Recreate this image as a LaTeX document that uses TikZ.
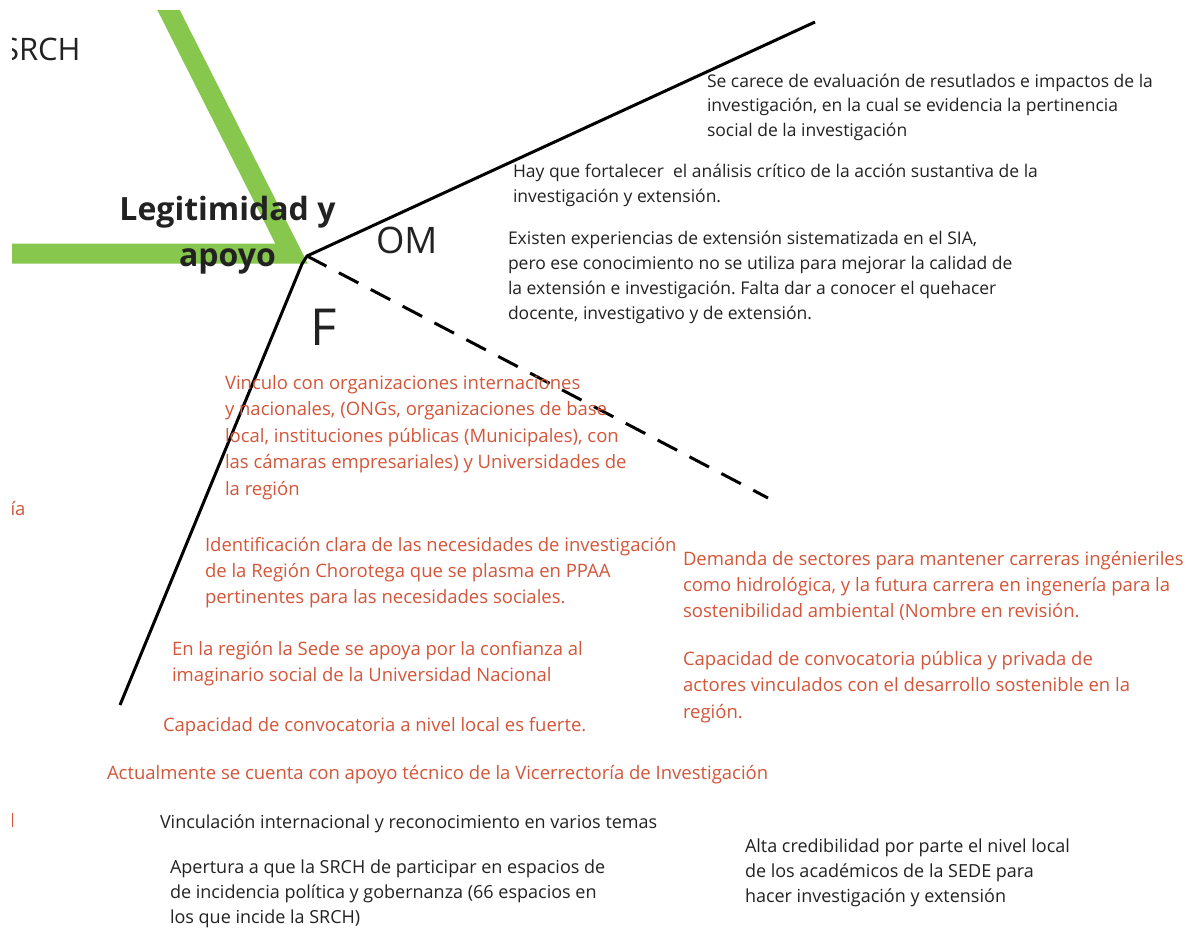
\documentclass[tikz,border=0pt]{standalone}
\usepackage{fontspec}
\setmainfont{Open Sans}
\frenchspacing
\definecolor{grn}{RGB}{135,199,78}
\definecolor{rtxt}{RGB}{212,86,58}
\definecolor{btxt}{RGB}{34,34,34}
\begin{document}
\begin{tikzpicture}[x=1pt,y=-1pt,
 blk/.style={anchor=base west, inner sep=0pt, outer sep=0pt, align=left, text=btxt, font=\fontsize{17.5}{24.5}\selectfont},
 rtx/.style={blk, text=rtxt, font=\fontsize{18.5}{26}\selectfont},
 blkb/.style={blk, font=\fontsize{18}{25}\selectfont},
 bone/.style={line width=3pt, black},
 big/.style={anchor=base west, inner sep=0pt, outer sep=0pt, text=btxt},
]
\useasboundingbox[fill=white] (0,0) rectangle (1189,932);
\begin{scope}
\clip (12,10) rectangle (1189,932);
\draw[grn, line width=20pt, line join=miter] (0,253.5) -- (291.5,253.5) -- (153.4,-20);
\node[big, font=\fontsize{31}{31}\selectfont] (srch) at (2,60) {SRCH};
\node[rtx] (ia) at (10.5,515) {ía};
\node[rtx] (lbar) at (10,827) {l};
\end{scope}
% multi-line nodes: anchor base = baseline of the last line
\node[align=center, font=\fontsize{32}{46}\selectfont\bfseries, text=btxt, inner sep=0pt, anchor=base] (leg) at (227.5,266) {Legitimidad y\\apoyo};
\coordinate (J) at (307,256);
\coordinate (OMend) at (815,22);
\coordinate (Fbend) at (302,264);
\coordinate (Fend) at (120,705);
\coordinate (Dend) at (768,498);
\draw[bone] (OMend) -- (J) -- (Fbend) -- (Fend);
\draw[bone, dash pattern=on 22pt off 14pt] (J) -- (Dend);
\node[big, font=\fontsize{36.5}{40}\selectfont] (om) at (376,253) {OM};
\node[big, font=\fontsize{51}{55}\selectfont] (f) at (310,345) {F};
% top right black texts
\node[blk] (t1) at (707,136) {Se carece de evaluación de resutlados e impactos de la\\investigación, en la cual se evidencia la pertinencia\\social de la investigación};
\node[blk, font=\fontsize{17.5}{25}\selectfont] (t2) at (513,202) {Hay que fortalecer\ \ el análisis crítico de la acción sustantiva de la\\investigación y extensión.};
\node[blk, font=\fontsize{17.5}{24.7}\selectfont] (t3) at (508,319) {Existen experiencias de extensión sistematizada en el SIA,\\pero ese conocimiento no se utiliza para mejorar la calidad de\\la extensión e investigación. Falta dar a conocer el quehacer\\docente, investigativo y de extensión.};
% red texts
\node[rtx, font=\fontsize{18.5}{26.5}\selectfont] (r1) at (225,495) {Vinculo con organizaciones internaciones\\y nacionales, (ONGs, organizaciones de base\\local, instituciones públicas (Municipales), con\\las cámaras empresariales) y Universidades de\\la región};
\node[rtx] (r2) at (205,603) {Identificación clara de las necesidades de investigación\\de la Región Chorotega que se plasma en PPAA\\pertinentes para las necesidades sociales.};
\node[rtx] (r3) at (683,617) {Demanda de sectores para mantener carreras ingénieriles\\como hidrológica, y la futura carrera en ingenería para la\\sostenibilidad ambiental (Nombre en revisión.};
\node[rtx, font=\fontsize{18.5}{26.5}\selectfont] (r4) at (683,718) {Capacidad de convocatoria pública y privada de\\actores vinculados con el desarrollo sostenible en la\\región.};
\node[rtx] (r5) at (172,681) {En la región la Sede se apoya por la confianza al\\imaginario social de la Universidad Nacional};
\node[rtx] (r6) at (163,731) {Capacidad de convocatoria a nivel local es fuerte.};
\node[rtx] (r7) at (107,779) {Actualmente se cuenta con apoyo técnico de la Vicerrectoría de Investigación};
% bottom black texts
\node[blkb] (b1) at (160,828) {Vinculación internacional y reconocimiento en varios temas};
\node[blkb] (b2) at (170,923) {Apertura a que la SRCH de participar en espacios de\\de incidencia política y gobernanza (66 espacios en\\los que incide la SRCH)};
\node[blkb] (b3) at (745,902) {Alta credibilidad por parte el nivel local\\de los académicos de la SEDE para\\hacer investigación y extensión};
\end{tikzpicture}
\end{document}
